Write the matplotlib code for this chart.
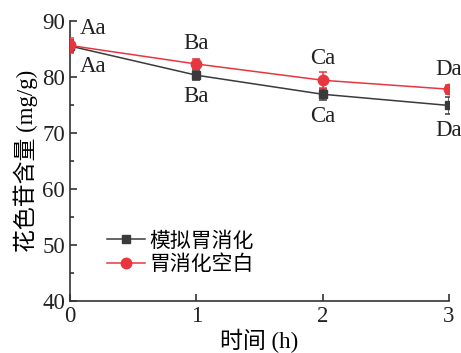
import matplotlib
matplotlib.use("Agg")
import matplotlib.pyplot as plt
from matplotlib.ticker import MultipleLocator

plt.rcParams['font.family'] = ['Liberation Serif', 'Noto Sans CJK SC']

# anthocyanin content over digestion time
hours = [0, 1, 2, 3]
digest = [85.5, 80.3, 76.9, 74.9]
digest_err = [1.0, 0.9, 1.0, 1.5]
blank = [85.6, 82.3, 79.4, 77.8]
blank_err = [1.3, 0.9, 1.4, 0.8]
labels_top = ['Aa', 'Ba', 'Ca', 'Da']
labels_bottom = ['Aa', 'Ba', 'Ca', 'Da']

black = '#3a3a3a'
red = '#e8363f'
fs = 16.5

fig = plt.figure(figsize=(4.61, 3.53), dpi=100)
ax = fig.add_axes([0.152, 0.147, 0.822, 0.794])

ax.errorbar(hours, digest, yerr=digest_err, color=black, marker='s', ms=6,
            lw=1.1, capsize=3, elinewidth=1.1, capthick=1.1, label='模拟胃消化',
            zorder=3)
ax.errorbar(hours, blank, yerr=blank_err, color=red, marker='o', ms=7.5,
            lw=1.1, capsize=3, elinewidth=1.1, capthick=1.1, label='胃消化空白',
            zorder=4)

top_off = [(7, 12), (0, 15), (0, 16), (0, 14)]
bot_off = [(7, -15), (0, -15), (0, -16), (0, -18)]
for i, h in enumerate(hours):
    ha = 'left' if i == 0 else 'center'
    ax.annotate(labels_top[i], (h, blank[i]), xytext=top_off[i],
                textcoords='offset points', ha=ha, va='center',
                fontsize=fs, color='#222222', annotation_clip=False)
    ax.annotate(labels_bottom[i], (h, digest[i]), xytext=bot_off[i],
                textcoords='offset points', ha=ha, va='center',
                fontsize=fs, color='#222222', annotation_clip=False)

ax.set_xlim(0, 3)
ax.set_ylim(40, 90)
ax.set_xticks(hours)
ax.yaxis.set_major_locator(MultipleLocator(10))
ax.yaxis.set_minor_locator(MultipleLocator(5))
ax.tick_params(which='both', direction='in', labelsize=fs, colors='#222222')
ax.tick_params(which='major', length=5, width=1.1)
ax.tick_params(which='minor', length=3, width=1.1)
for side in ['top', 'right']:
    ax.spines[side].set_visible(False)
for side in ['left', 'bottom']:
    ax.spines[side].set_linewidth(1.2)
    ax.spines[side].set_color('#333333')

ax.set_xlabel('时间 (h)', fontsize=fs, labelpad=1)
ax.set_ylabel('花色苷含量 (mg/g)', fontsize=fs, labelpad=3)

# legend shows only line + marker, no error bars
handles, names = ax.get_legend_handles_labels()
handles = [h[0] for h in handles]
ax.legend(handles, names, loc='lower left', bbox_to_anchor=(0.06, 0.04),
          frameon=False, prop={'size': 15},
          handlelength=1.8, handletextpad=0.2, labelspacing=0.2,
          borderpad=0.2)

fig.savefig('out.png', dpi=100)
